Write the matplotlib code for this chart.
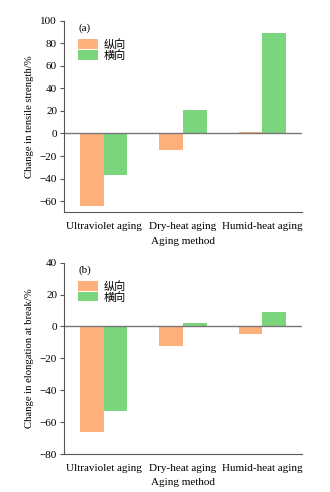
import numpy as np
import matplotlib
matplotlib.use('Agg')
import matplotlib.pyplot as plt

plt.rcParams['font.family'] = ['Liberation Serif', 'Noto Sans CJK SC']
plt.rcParams['font.size'] = 8

# Aging methods and property changes (%)
methods = ['Ultraviolet aging', 'Dry-heat aging', 'Humid-heat aging']
series_names = ['纵向', '横向']
tensile_long = [-64, -15, 1]
tensile_trans = [-37, 21, 89]
elong_long = [-66, -12, -5]
elong_trans = [-53, 2, 9]

orange = '#FDB07A'
green = '#7BD57D'
x = np.arange(len(methods))
w = 0.3

fig = plt.figure(figsize=(3.30, 4.92), dpi=100)
ax1 = fig.add_axes([0.194, 0.5685, 0.721, 0.389])
ax2 = fig.add_axes([0.194, 0.0772, 0.721, 0.389])

panels = [
    (ax1, tensile_long, tensile_trans, (-70, 100), np.arange(-60, 101, 20),
     'Change in tensile strength/%', '(a)'),
    (ax2, elong_long, elong_trans, (-80, 40), np.arange(-80, 41, 20),
     'Change in elongation at break/%', '(b)'),
]

for ax, lon, tra, ylim, yt, ylab, tag in panels:
    ax.bar(x - w / 2, lon, width=w, color=orange, label=series_names[0])
    ax.bar(x + w / 2, tra, width=w, color=green, label=series_names[1])
    ax.axhline(0, color='#777777', lw=1.0)
    ax.set_xlim(-0.5, 2.5)
    ax.set_ylim(*ylim)
    ax.set_yticks(yt)
    ax.set_xticks(x)
    ax.set_xticklabels(methods)
    ax.tick_params(axis='x', length=0, pad=7)
    ax.tick_params(axis='y', length=3, width=0.8, color='#555555', pad=2)
    for s in ['top', 'right']:
        ax.spines[s].set_visible(False)
    for s in ['left', 'bottom']:
        ax.spines[s].set_color('#555555')
        ax.spines[s].set_linewidth(0.8)
    ax.set_ylabel(ylab, fontsize=7.7, labelpad=4)
    ax.set_xlabel('Aging method', labelpad=4)
    ax.text(0.06, 0.985, tag, transform=ax.transAxes, va='top', ha='left')
    ax.legend(loc='upper left', bbox_to_anchor=(0.06, 0.905), frameon=False,
              handlelength=1.8, handleheight=0.95, labelspacing=0.0,
              handletextpad=0.5, borderaxespad=0, borderpad=0,
              prop={'family': ['Noto Sans CJK SC'], 'size': 8})

fig.savefig('out.png', dpi=100)
